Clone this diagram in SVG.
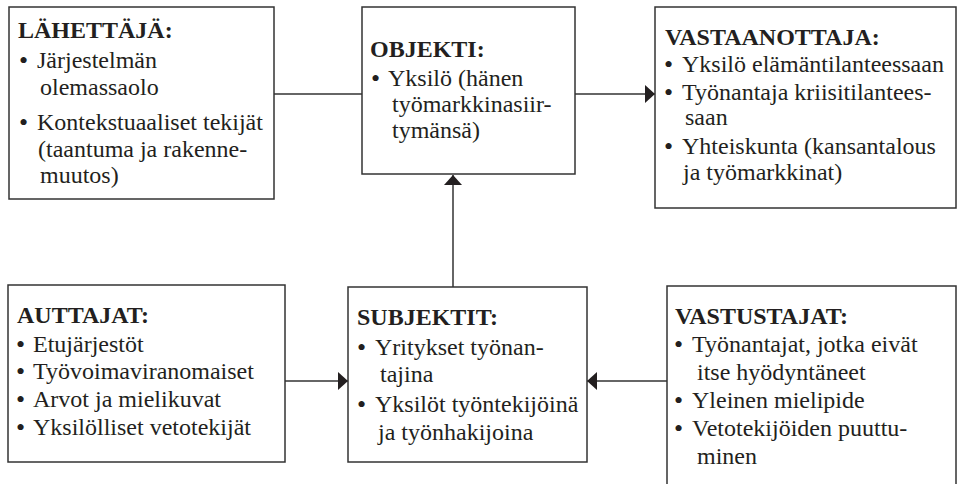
<svg xmlns="http://www.w3.org/2000/svg" width="960" height="484" viewBox="0 0 960 484">
<style>
.box{fill:#fff;stroke:#333;stroke-width:1.5}
text{font-family:"Liberation Serif","Times New Roman",serif;font-size:24px;fill:#231f20}
.t{font-weight:bold}
.b{font-size:26px}
.c{stroke:#333;stroke-width:1.5;fill:none}
</style>
<defs>
<marker id="ah" markerUnits="userSpaceOnUse" markerWidth="10" markerHeight="18" refX="10" refY="9" orient="auto" viewBox="0 0 10 18">
<path d="M0,0 L10,9 L0,18 z" fill="#231f20"/>
</marker>
</defs>
<rect width="960" height="484" fill="#fff"/>
<g id="connectors">
<line class="c" x1="274" y1="94" x2="362" y2="94"/>
<line class="c" x1="575" y1="94" x2="655" y2="94" marker-end="url(#ah)"/>
<line class="c" x1="453" y1="287" x2="453" y2="175" marker-end="url(#ah)"/>
<line class="c" x1="285" y1="381" x2="348" y2="381" marker-end="url(#ah)"/>
<line class="c" x1="667" y1="381" x2="587" y2="381" marker-end="url(#ah)"/>
</g>
<g id="lahettaja">
<rect class="box" x="9" y="7" width="265" height="192"/>
<text class="t" x="18" y="38">LÄHETTÄJÄ:</text>
<text x="19" y="68"><tspan class="b" dy="1">•</tspan><tspan x="37" dy="-1">Järjestelmän</tspan></text>
<text x="40" y="95">olemassaolo</text>
<text x="19" y="130"><tspan class="b" dy="1">•</tspan><tspan x="37" dy="-1">Kontekstuaaliset tekijät</tspan></text>
<text x="38" y="157">(taantuma ja rakenne-</text>
<text x="40" y="183">muutos)</text>
</g>
<g id="objekti">
<rect class="box" x="362" y="7" width="213" height="167"/>
<text class="t" x="370" y="57">OBJEKTI:</text>
<text x="371" y="86"><tspan class="b" dy="1">•</tspan><tspan x="388" dy="-1">Yksilö (hänen</tspan></text>
<text x="392" y="112">työmarkkinasiir-</text>
<text x="392" y="138">tymänsä)</text>
</g>
<g id="vastaanottaja">
<rect class="box" x="655" y="7" width="301" height="201"/>
<text class="t" x="665" y="45">VASTAANOTTAJA:</text>
<text x="664" y="72"><tspan class="b" dy="1">•</tspan><tspan x="682" dy="-1">Yksilö elämäntilanteessaan</tspan></text>
<text x="664" y="100"><tspan class="b" dy="1">•</tspan><tspan x="682" dy="-1">Työnantaja kriisitilantees-</tspan></text>
<text x="685" y="125">saan</text>
<text x="664" y="154"><tspan class="b" dy="1">•</tspan><tspan x="682" dy="-1">Yhteiskunta (kansantalous</tspan></text>
<text x="683" y="180">ja työmarkkinat)</text>
</g>
<g id="auttajat">
<rect class="box" x="8" y="285" width="277" height="177"/>
<text class="t" x="17" y="323">AUTTAJAT:</text>
<text x="16" y="352"><tspan class="b" dy="1">•</tspan><tspan x="33" dy="-1">Etujärjestöt</tspan></text>
<text x="16" y="379"><tspan class="b" dy="1">•</tspan><tspan x="33" dy="-1">Työvoimaviranomaiset</tspan></text>
<text x="16" y="407"><tspan class="b" dy="1">•</tspan><tspan x="33" dy="-1">Arvot ja mielikuvat</tspan></text>
<text x="16" y="435"><tspan class="b" dy="1">•</tspan><tspan x="33" dy="-1">Yksilölliset vetotekijät</tspan></text>
</g>
<g id="subjektit">
<rect class="box" x="348" y="287" width="239" height="175"/>
<text class="t" x="357" y="325">SUBJEKTIT:</text>
<text x="357" y="355"><tspan class="b" dy="1">•</tspan><tspan x="375" dy="-1">Yritykset työnan-</tspan></text>
<text x="380" y="382">tajina</text>
<text x="357" y="412"><tspan class="b" dy="1">•</tspan><tspan x="375" dy="-1">Yksilöt työntekijöinä</tspan></text>
<text x="378" y="440">ja työnhakijoina</text>
</g>
<g id="vastustajat">
<rect class="box" x="667" y="286" width="289" height="210"/>
<text class="t" x="675" y="324">VASTUSTAJAT:</text>
<text x="674" y="352"><tspan class="b" dy="1">•</tspan><tspan x="692" dy="-1">Työnantajat, jotka eivät</tspan></text>
<text x="697" y="380">itse hyödyntäneet</text>
<text x="674" y="408"><tspan class="b" dy="1">•</tspan><tspan x="692" dy="-1">Yleinen mielipide</tspan></text>
<text x="674" y="436"><tspan class="b" dy="1">•</tspan><tspan x="692" dy="-1">Vetotekijöiden puuttu-</tspan></text>
<text x="697" y="464">minen</text>
</g>
</svg>
